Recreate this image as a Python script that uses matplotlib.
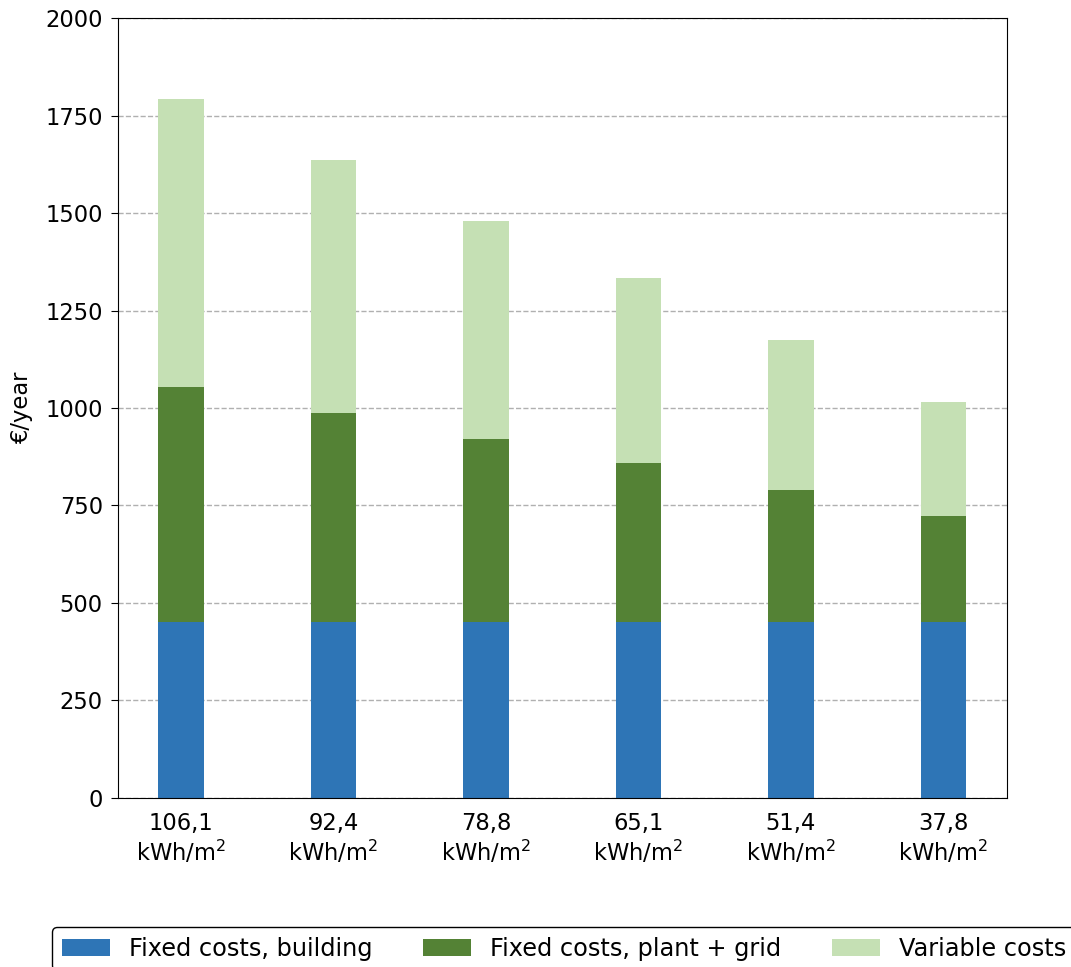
import matplotlib.pyplot as plt
import numpy as np

# energy demand classes (x axis) and annual cost components
demand = ['106,1', '92,4', '78,8', '65,1', '51,4', '37,8']
fixed_building = [450, 450, 450, 450, 450, 450]
fixed_plant = [604, 537, 470, 409, 340, 273]
variable = [738, 649, 559, 474, 384, 292]

plt.rcParams['font.size'] = 16.3

fig = plt.figure(figsize=(10.71, 9.67), dpi=100)
ax = fig.add_axes([0.110, 0.175, 0.830, 0.806])

x = np.arange(len(demand))
w = 0.3
b1 = np.array(fixed_building)
b2 = b1 + np.array(fixed_plant)

ax.bar(x, fixed_building, w, color='#2e75b6', label='Fixed costs, building', zorder=2)
ax.bar(x, fixed_plant, w, bottom=b1, color='#548235', label='Fixed costs, plant + grid', zorder=2)
ax.bar(x, variable, w, bottom=b2, color='#c5e0b4', label='Variable costs', zorder=2)

ax.set_ylim(0, 2000)
ax.set_yticks(np.arange(0, 2001, 250))
ax.set_xticks(x)
ax.set_xticklabels([d + '\nkWh/m$^2$' for d in demand])
ax.tick_params(axis='x', length=0, pad=10)
ax.tick_params(axis='y', length=5, pad=5.8)
ax.set_ylabel('€/year', labelpad=8.5)
ax.yaxis.grid(True, linestyle='--', color='#b0b0b0', linewidth=1, zorder=0)
ax.set_axisbelow(True)

fig.legend(loc='upper left', bbox_to_anchor=(0.0486, 0.0414), ncol=3,
           frameon=True, edgecolor='black', framealpha=1, fontsize=17.3,
           borderaxespad=0, handlelength=2.0, columnspacing=2.1)

fig.savefig('out.png', dpi=100)
